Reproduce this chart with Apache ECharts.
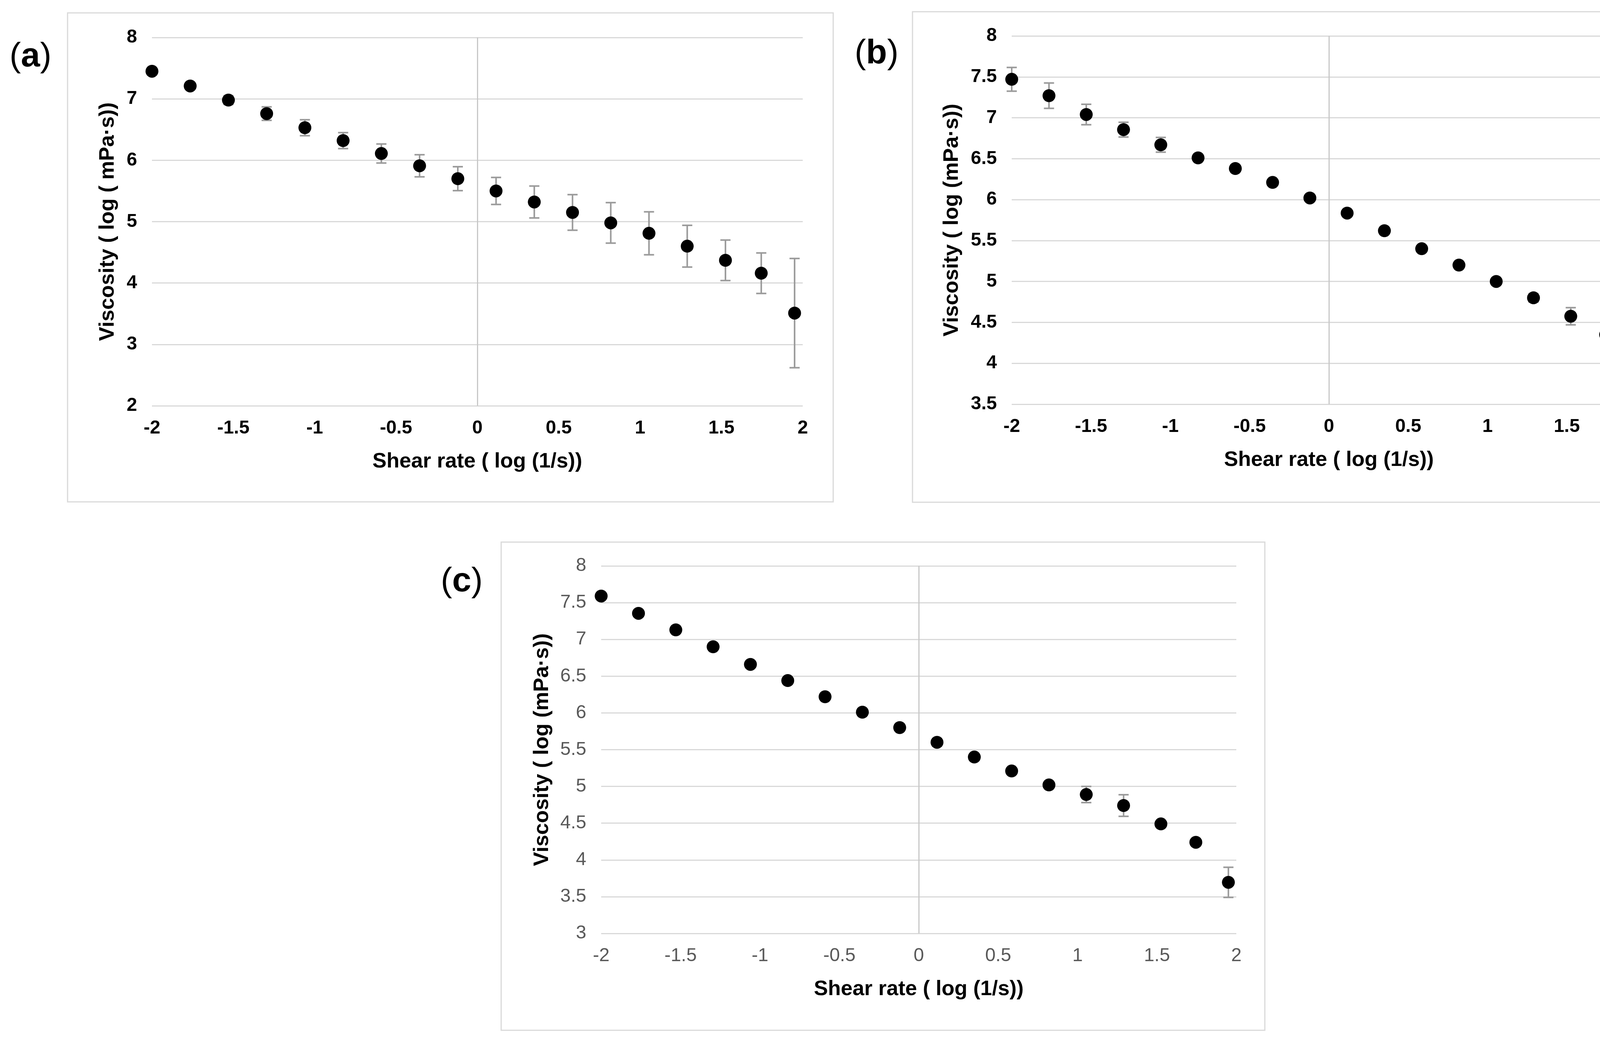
<!DOCTYPE html>
<html>
<head>
<meta charset="utf-8">
<script src="https://cdn.jsdelivr.net/npm/echarts@6/dist/echarts.min.js"></script>
<style>html,body{margin:0;padding:0;background:#fff;overflow:hidden}#c{width:4326px;height:2668px}</style>
</head>
<body>
<div id="c"></div>
<script>
// Shear rate (log (1/s)) - shared by all panels
const shearRate = [-2, -1.765, -1.53, -1.295, -1.06, -0.825, -0.59, -0.355, -0.12, 0.115, 0.35, 0.585, 0.82, 1.055, 1.29, 1.525, 1.745, 1.95];

// Panel (a)
const viscA = [7.45, 7.21, 6.98, 6.76, 6.53, 6.32, 6.11, 5.91, 5.70, 5.50, 5.32, 5.15, 4.98, 4.81, 4.60, 4.37, 4.16, 3.51];
const errA  = [0.05, 0.05, 0.07, 0.11, 0.13, 0.13, 0.155, 0.18, 0.195, 0.22, 0.26, 0.29, 0.33, 0.35, 0.34, 0.33, 0.33, 0.89];

// Panel (b)
const viscB = [7.47, 7.27, 7.04, 6.855, 6.67, 6.51, 6.38, 6.21, 6.02, 5.835, 5.62, 5.40, 5.20, 5.00, 4.80, 4.575, 4.35, 4.125];
const errB  = [0.145, 0.155, 0.125, 0.09, 0.09, 0.03, 0.03, 0.03, 0.03, 0.03, 0.03, 0.03, 0.03, 0.03, 0.05, 0.105, 0.12, 0.2];

// Panel (c)
const viscC = [7.59, 7.355, 7.13, 6.90, 6.66, 6.44, 6.22, 6.01, 5.80, 5.60, 5.40, 5.21, 5.02, 4.89, 4.74, 4.49, 4.24, 3.695];
const errC  = [0.03, 0.03, 0.03, 0.03, 0.03, 0.03, 0.03, 0.03, 0.03, 0.05, 0.03, 0.03, 0.05, 0.11, 0.147, 0.04, 0.03, 0.205];

// Axis settings
const yRanges = [[2, 8, 1], [3.5, 8, 0.5], [3, 8, 0.5]];
const xTitle = 'Shear rate ( log (1/s))';
const yTitles = ['Viscosity ( log ( mPa\u00b7s))', 'Viscosity ( log (mPa\u00b7s))', 'Viscosity ( log (mPa\u00b7s))'];
const panelLabels = ['a', 'b', 'c'];

const FONT = '"Liberation Sans", Arial, sans-serif';

const grids = [
  {left: 389, top: 96, width: 1666, height: 943},
  {left: 2590, top: 92, width: 1624, height: 943},
  {left: 1539, top: 1449, width: 1626, height: 941}
];
const frames = [
  {x: 173, y: 33, w: 1960, h: 1252},
  {x: 2336, y: 30, w: 1960, h: 1256},
  {x: 1283, y: 1388, w: 1955, h: 1250}
];
const labelPos = [[78, 146], [2244, 138], [1182, 1490]];
const tickColors = ['#000', '#000', '#595959'];
const tickWeights = ['bold', 'bold', 'normal'];
const yNameGaps = [86, 126, 124];

const allVisc = [viscA, viscB, viscC];
const allErr = [errA, errB, errC];

const xAxes = [], yAxes = [], series = [], graphics = [];

for (let i = 0; i < 3; i++) {
  xAxes.push({
    type: 'value', gridIndex: i, min: -2, max: 2, interval: 0.5,
    axisLine: {show: false}, axisTick: {show: false}, splitLine: {show: false},
    axisLabel: {fontFamily: FONT, fontSize: 48, color: tickColors[i], fontWeight: tickWeights[i], margin: 34},
    name: xTitle, nameLocation: 'middle', nameGap: 116,
    nameTextStyle: {fontFamily: FONT, fontSize: 54, fontWeight: 'bold', color: '#000'}
  });
  yAxes.push({
    type: 'value', gridIndex: i, min: yRanges[i][0], max: yRanges[i][1], interval: yRanges[i][2],
    axisLine: {show: false}, axisTick: {show: false},
    splitLine: {show: true, lineStyle: {color: '#d9d9d9', width: 3}},
    axisLabel: {fontFamily: FONT, fontSize: 48, color: tickColors[i], fontWeight: tickWeights[i], margin: 38},
    name: yTitles[i], nameLocation: 'middle', nameGap: yNameGaps[i], nameRotate: 90,
    nameTextStyle: {fontFamily: FONT, fontSize: 54, fontWeight: 'bold', color: '#000'}
  });
  const v = allVisc[i], e = allErr[i];
  series.push({
    type: 'custom', xAxisIndex: i, yAxisIndex: i, z: 2,
    data: shearRate.map((x, k) => [x, v[k] - e[k], v[k] + e[k]]),
    encode: {x: 0, y: [1, 2]},
    renderItem: function (params, api) {
      const x = api.value(0), lo = api.value(1), hi = api.value(2);
      const pLo = api.coord([x, lo]), pHi = api.coord([x, hi]);
      const hw = 13;
      const style = {stroke: '#9a9a9a', lineWidth: 4};
      return {type: 'group', children: [
        {type: 'line', shape: {x1: pLo[0], y1: pLo[1], x2: pHi[0], y2: pHi[1]}, style: style},
        {type: 'line', shape: {x1: pLo[0] - hw, y1: pLo[1], x2: pLo[0] + hw, y2: pLo[1]}, style: style},
        {type: 'line', shape: {x1: pHi[0] - hw, y1: pHi[1], x2: pHi[0] + hw, y2: pHi[1]}, style: style}
      ]};
    }
  });
  series.push({
    type: 'scatter', xAxisIndex: i, yAxisIndex: i, z: 3,
    symbol: 'circle', symbolSize: 33,
    itemStyle: {color: '#000', opacity: 1},
    data: shearRate.map((x, k) => [x, v[k]]),
    markLine: {
      silent: true, symbol: 'none', label: {show: false},
      lineStyle: {color: '#c8c8c8', width: 3, type: 'solid'},
      data: [{xAxis: 0}]
    }
  });
  graphics.push({
    type: 'rect', z: -1,
    shape: {x: frames[i].x, y: frames[i].y, width: frames[i].w, height: frames[i].h},
    style: {fill: 'none', stroke: '#d9d9d9', lineWidth: 3}
  });
  graphics.push({
    type: 'text', x: labelPos[i][0], y: labelPos[i][1],
    style: {
      text: '{p|(}{b|' + panelLabels[i] + '}{p|)}',
      align: 'center', verticalAlign: 'middle',
      rich: {
        p: {fontFamily: FONT, fontSize: 88, fontWeight: 'normal', fill: '#000'},
        b: {fontFamily: FONT, fontSize: 88, fontWeight: 'bold', fill: '#000'}
      }
    }
  });
}

const chart = echarts.init(document.getElementById('c'));
chart.setOption({
  backgroundColor: '#fff',
  animation: false,
  grid: grids,
  xAxis: xAxes,
  yAxis: yAxes,
  series: series,
  graphic: graphics
});
</script>
</body>
</html>
